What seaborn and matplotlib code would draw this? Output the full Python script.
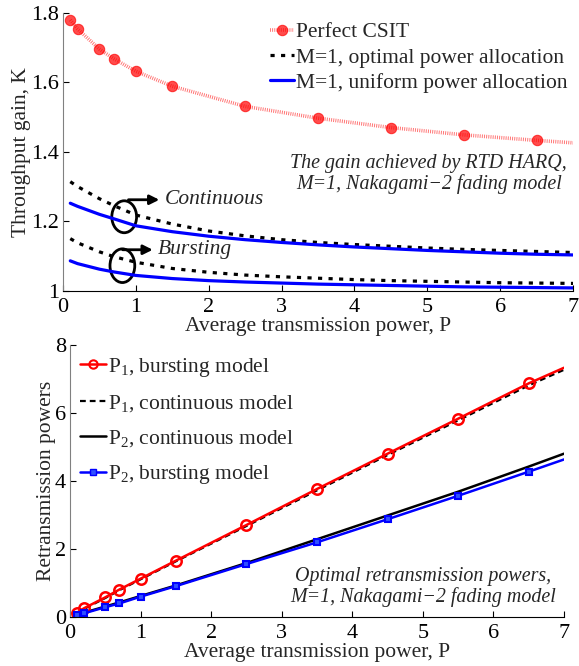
import numpy as np
import matplotlib
matplotlib.use("Agg")
import matplotlib.pyplot as plt
from matplotlib.patches import Ellipse
import seaborn as sns

# --- top panel: throughput gain ---
x_csit = [0.1, 0.2, 0.5, 0.7, 1, 1.5, 2.5, 3.5, 4.5, 5.5, 6.5, 7]
k_csit = [1.780, 1.754, 1.696, 1.668, 1.632, 1.589, 1.531, 1.497, 1.470, 1.449, 1.433, 1.426]

x_gain = [0.1, 0.2, 0.5, 0.7, 1, 1.5, 2, 2.5, 3, 3.5, 4, 4.5, 5, 5.5, 6, 6.5, 7]
k_cont_opt = [1.314, 1.300, 1.265, 1.245, 1.218, 1.192, 1.172, 1.158, 1.147, 1.139,
              1.133, 1.128, 1.123, 1.119, 1.116, 1.113, 1.110]
k_cont_uni = [1.252, 1.243, 1.220, 1.207, 1.187, 1.170, 1.157, 1.147, 1.139, 1.132,
              1.126, 1.121, 1.116, 1.112, 1.108, 1.105, 1.103]
k_burst_opt = [1.150, 1.138, 1.112, 1.098, 1.082, 1.064, 1.053, 1.045, 1.040, 1.036,
               1.032, 1.029, 1.027, 1.025, 1.023, 1.022, 1.021]
k_burst_uni = [1.086, 1.078, 1.062, 1.054, 1.044, 1.035, 1.029, 1.025, 1.022, 1.019,
               1.017, 1.015, 1.013, 1.011, 1.010, 1.009, 1.008]

# --- bottom panel: retransmission powers ---
x_pow = [0.1, 0.2, 0.5, 0.7, 1, 1.5, 2.5, 3.5, 4.5, 5.5, 6.5, 7]
p1_burst = [0.12, 0.25, 0.57, 0.80, 1.12, 1.65, 2.70, 3.76, 4.80, 5.83, 6.87, 7.33]
p1_cont = [0.11, 0.23, 0.55, 0.78, 1.10, 1.63, 2.67, 3.72, 4.76, 5.78, 6.81, 7.27]
p2_cont = [0.06, 0.12, 0.30, 0.42, 0.61, 0.92, 1.58, 2.28, 2.98, 3.68, 4.42, 4.80]
p2_burst = [0.05, 0.10, 0.28, 0.39, 0.59, 0.90, 1.55, 2.19, 2.87, 3.56, 4.27, 4.63]

FS = 15.5
FS_NOTE = 14.4

sns.set_style("ticks")
plt.rcParams['font.family'] = ['Liberation Serif', 'DejaVu Serif']
plt.rcParams['mathtext.fontset'] = 'custom'
plt.rcParams['mathtext.rm'] = 'Liberation Serif'
plt.rcParams['mathtext.it'] = 'Liberation Serif:italic'
plt.rcParams['mathtext.default'] = 'regular'
plt.rcParams['font.size'] = FS

W, H = 579, 666
fig = plt.figure(figsize=(W / 100, H / 100), dpi=100)
ax1 = fig.add_axes([63 / W, 1 - 290.7 / H, 510 / W, 277.7 / H])
ax2 = fig.add_axes([70 / W, 1 - 616.7 / H, 494 / W, 271.7 / H])

def style_axes(ax):
    for s in ['top', 'right']:
        ax.spines[s].set_visible(False)
    ax.spines['left'].set_color('#808080')
    ax.spines['bottom'].set_color('black')
    ax.tick_params(direction='in', length=4, width=0.8, labelsize=FS + 0.5,
                   colors='black')
    ax.tick_params(axis='x', pad=5)
    ax.tick_params(axis='y', pad=3)

# top
sns.lineplot(x=x_csit, y=k_csit, ax=ax1, color='#ff3030', alpha=0.7, lw=2.6,
             linestyle=(0, (0.25, 0.35)), marker='o', markersize=7.5,
             markerfacecolor='red', markeredgecolor='red', markevery=list(range(11)),
             label='Perfect CSIT')
sns.lineplot(x=x_gain, y=k_cont_opt, ax=ax1, color='black', lw=2.3,
             linestyle=(0, (1.3, 2.0)), label='M=1, optimal power allocation')
sns.lineplot(x=x_gain, y=k_cont_uni, ax=ax1, color='#0000ff', lw=2.3,
             label='M=1, uniform power allocation')
sns.lineplot(x=x_gain, y=k_burst_opt, ax=ax1, color='black', lw=2.3,
             linestyle=(0, (1.3, 2.0)))
sns.lineplot(x=x_gain, y=k_burst_uni, ax=ax1, color='#0000ff', lw=2.3)

ax1.set_xlim(0, 7)
ax1.set_ylim(1, 1.8)
ax1.set_xticks(range(8))
ax1.set_yticks([1, 1.2, 1.4, 1.6, 1.8])
ax1.set_yticklabels(['1', '1.2', '1.4', '1.6', '1.8'])
ax1.set_xlabel('Average transmission power, P', fontsize=FS, labelpad=0)
ax1.set_ylabel('Throughput gain, K', fontsize=FS)
ax1.yaxis.set_label_coords(-0.062, 0.5)
style_axes(ax1)
ax1.legend(loc='upper left', bbox_to_anchor=(270 / W, 1 - 22 / H),
           bbox_transform=fig.transFigure, frameon=False, fontsize=FS,
           handlelength=1.1, handletextpad=0.12, labelspacing=0.25,
           borderpad=0, borderaxespad=0)

ax1.text(5.02, 1.335, 'The gain achieved by RTD HARQ,\nM=1, Nakagami\u22122 fading model',
         ha='center', va='center', style='italic', fontsize=FS_NOTE, linespacing=1.08)

for cx, cy, h in [(0.84, 1.213, 0.092), (0.815, 1.072, 0.097)]:
    ax1.add_patch(Ellipse((cx, cy), 0.34, h, fill=False, ec='black', lw=2))
ax1.annotate('', xy=(1.36, 1.262), xytext=(0.86, 1.262),
             arrowprops=dict(arrowstyle='-|>', color='black', lw=2, mutation_scale=14))
ax1.annotate('', xy=(1.27, 1.118), xytext=(0.78, 1.118),
             arrowprops=dict(arrowstyle='-|>', color='black', lw=2, mutation_scale=14))
ax1.text(1.40, 1.262, 'Continuous', style='italic', fontsize=FS, va='center')
ax1.text(1.30, 1.118, 'Bursting', style='italic', fontsize=FS, va='center')

# bottom
sns.lineplot(x=x_pow, y=p1_cont, ax=ax2, color='black', lw=1.6,
             linestyle=(0, (2.6, 1.8)))
sns.lineplot(x=x_pow, y=p2_cont, ax=ax2, color='black', lw=1.8)
sns.lineplot(x=x_pow, y=p1_burst, ax=ax2, color='red', lw=1.8, marker='o',
             markersize=7.5, markerfacecolor='none', markeredgecolor='red',
             markeredgewidth=1.8, markevery=list(range(11)))
sns.lineplot(x=x_pow, y=p2_burst, ax=ax2, color='#0000ff', lw=1.8, marker='s',
             markersize=5, markerfacecolor='#3050ff', markeredgecolor='#0000ff',
             markeredgewidth=1.5, markevery=list(range(11)))

ax2.set_xlim(0, 7)
ax2.set_ylim(0, 8)
ax2.set_xticks(range(8))
ax2.set_yticks([0, 2, 4, 6, 8])
ax2.set_xlabel('Average transmission power, P', fontsize=FS, labelpad=0)
ax2.set_ylabel('Retransmission powers', fontsize=FS)
ax2.yaxis.set_label_coords(-0.028, 0.5)
style_axes(ax2)

h1 = plt.Line2D([], [], color='red', lw=1.8, marker='o', markersize=6,
                markerfacecolor='none', markeredgewidth=1.5)
h2 = plt.Line2D([], [], color='black', lw=1.6, linestyle=(0, (2.6, 1.8)))
h3 = plt.Line2D([], [], color='black', lw=1.8)
h4 = plt.Line2D([], [], color='#0000ff', lw=1.8, marker='s', markersize=4,
                markerfacecolor='#3050ff')
ax2.legend([h1, h2, h3, h4],
           ['P$_1$, bursting model', 'P$_1$, continuous model',
            'P$_2$, continuous model', 'P$_2$, bursting model'],
           loc='upper left', bbox_to_anchor=(80 / W, 1 - 356 / H),
           bbox_transform=fig.transFigure, frameon=False, fontsize=FS,
           handlelength=1.2, handletextpad=0.1, labelspacing=0.66,
           borderpad=0, borderaxespad=0)

ax2.text(5.0, 0.88, 'Optimal retransmission powers,\nM=1, Nakagami\u22122 fading model',
         ha='center', va='center', style='italic', fontsize=FS_NOTE, linespacing=1.05)

fig.savefig('out.png', dpi=100)
